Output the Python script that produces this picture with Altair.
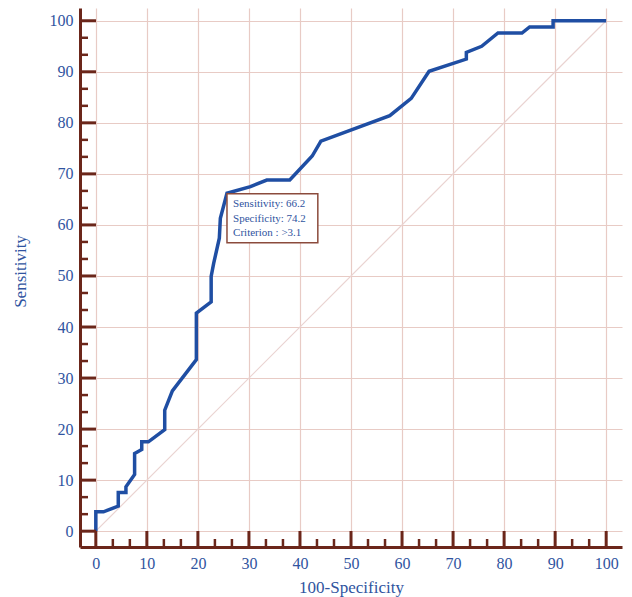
import altair as alt
import pandas as pd

# ROC curve (100-Specificity, Sensitivity)
fpr = [0, 0, 1.5, 4.4, 4.4, 5.9, 5.9, 7.6, 7.6, 9.0, 9.0, 10.3, 13.5, 13.5, 15.0,
       19.7, 19.7, 22.6, 22.6, 23.1, 24.2, 24.4, 25.7, 30.3, 33.5, 38.0, 42.4,
       44.1, 57.6, 61.8, 65.3, 72.6, 72.6, 75.6, 78.8, 83.5, 85.0, 89.6, 89.6, 100]
tpr = [0, 3.8, 3.8, 4.9, 7.6, 7.6, 8.7, 11.1, 15.2, 16.0, 17.5, 17.5, 19.9, 23.7, 27.5,
       33.6, 42.7, 44.9, 49.9, 52.5, 57.4, 61.3, 66.2, 67.5, 68.8, 68.8, 73.5,
       76.4, 81.4, 84.8, 90.1, 92.5, 93.8, 95.0, 97.6, 97.6, 98.8, 98.8, 100, 100]

diag_x = [0, 100]
diag_y = [0, 100]

major_ticks = [0, 10, 20, 30, 40, 50, 60, 70, 80, 90, 100]
minor_ticks = [round(m + d, 3) for m in range(0, 100, 10) for d in (10 / 3, 20 / 3)]

box_x = [25.7, 43.5]
box_y = [56.5, 66.1]
note_lines = ["Sensitivity: 66.2", "Specificity: 74.2", "Criterion : >3.1"]
note_x = [26.9, 26.9, 26.9]
note_y = [64.1, 61.2, 58.4]

BLUE = "#3054a0"
CURVE = "#1f4ea3"
BROWN = "#6b261a"
GRID = "#e8cbc5"
DIAG = "#ead3d1"
FONT = "Liberation Serif"

x_scale = alt.Scale(domain=[-3.1, 103.1], nice=False, zero=False)
y_scale = alt.Scale(domain=[-3.1, 102.5], nice=False, zero=False)

x_axis = alt.Axis(values=major_ticks, grid=True, gridColor=GRID, gridWidth=1.2,
                  domainColor=BROWN, domainWidth=3, ticks=False, tickSize=0,
                  labelFont=FONT, labelFontSize=16, labelColor=BLUE, labelPadding=8,
                  labelFlush=False, labelOverlap=False,
                  title="100-Specificity", titleFont=FONT, titleFontSize=17,
                  titleFontWeight="normal", titleColor=BLUE,
                  titleX=271, titleY=45, titleBaseline="alphabetic", titleAlign="center")
y_axis = alt.Axis(values=major_ticks, grid=True, gridColor=GRID, gridWidth=1.2,
                  domainColor=BROWN, domainWidth=3, ticks=False, tickSize=0,
                  labelFont=FONT, labelFontSize=16, labelColor=BLUE, labelPadding=7,
                  labelFlush=False, labelOverlap=False,
                  title="Sensitivity", titleFont=FONT, titleFontSize=17,
                  titleFontWeight="normal", titleColor=BLUE,
                  titleX=-60, titleY=263, titleBaseline="middle", titleAlign="center",
                  titleAngle=270)


def X(field):
    return alt.X(field, scale=x_scale, axis=x_axis)


def Y(field):
    return alt.Y(field, scale=y_scale, axis=y_axis)


diag_df = pd.DataFrame({"x": diag_x, "y": diag_y})
curve_df = pd.DataFrame({"x": fpr, "y": tpr, "i": list(range(len(fpr)))})
major_df = pd.DataFrame({"v": major_ticks})
minor_df = pd.DataFrame({"v": minor_ticks})
box_df = pd.DataFrame({"x": [box_x[0]], "x2": [box_x[1]], "y": [box_y[0]], "y2": [box_y[1]]})
note_df = pd.DataFrame({"t": note_lines, "x": note_x, "y": note_y})

diag = alt.Chart(diag_df).mark_line(color=DIAG, strokeWidth=1.2).encode(
    x=X("x:Q"), y=Y("y:Q"))

curve = alt.Chart(curve_df).mark_line(color=CURVE, strokeWidth=3.5, strokeJoin="miter").encode(
    x=X("x:Q"), y=Y("y:Q"), order=alt.Order("i:Q"))

box = alt.Chart(box_df).mark_rect(fill="white", stroke="#8b4b3c", strokeWidth=1.5).encode(
    x=X("x:Q"), x2="x2:Q", y=Y("y:Q"), y2="y2:Q")

note = alt.Chart(note_df).mark_text(align="left", baseline="middle", font=FONT,
                                    fontSize=11, color=BLUE).encode(
    x=X("x:Q"), y=Y("y:Q"), text="t:N")

y_major = alt.Chart(major_df).mark_rule(color=BROWN, strokeWidth=3).encode(
    y=Y("v:Q"), x=alt.value(0), x2=alt.value(16))
y_minor = alt.Chart(minor_df).mark_rule(color=BROWN, strokeWidth=2.5).encode(
    y=Y("v:Q"), x=alt.value(0), x2=alt.value(8))
x_major = alt.Chart(major_df).mark_rule(color=BROWN, strokeWidth=3).encode(
    x=X("v:Q"), y=alt.value(539), y2=alt.value(523))
x_minor = alt.Chart(minor_df).mark_rule(color=BROWN, strokeWidth=2.5).encode(
    x=X("v:Q"), y=alt.value(539), y2=alt.value(531))

chart = alt.layer(diag, curve, box, note, y_major, y_minor, x_major, x_minor).properties(
    width=542, height=539,
    autosize=alt.AutoSizeParams(type="none"),
    padding={"left": 72, "top": 0, "right": 2, "bottom": 50},
    background="white",
).configure_view(stroke=None)

chart.save("out.html", embed_options={"renderer": "svg", "actions": False})
